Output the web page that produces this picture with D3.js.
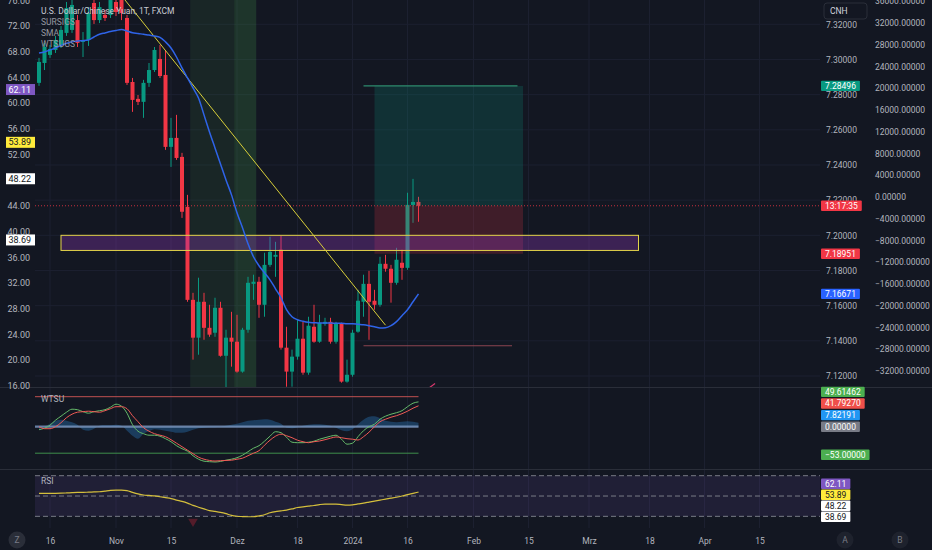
<!DOCTYPE html>
<html>
<head>
<meta charset="utf-8">
<script src="https://cdn.jsdelivr.net/npm/d3@7"></script>
<style>
  html, body { margin: 0; padding: 0; background: #131722; }
  svg { display: block; font-family: Roboto, "Noto Sans", sans-serif; }
</style>
</head>
<body>
<div id="chart"></div>
<script>
// USD/CNH daily (1T), FXCM, 12 Oct 2023 .. 18 Jan 2024
const opens = [
  7.2867, 7.2980, 7.3026, 7.3054, 7.3082, 7.3151, 7.3168, 7.3224, 7.3100, 7.3111,
  7.3321, 7.3224, 7.3253, 7.3253, 7.3327, 7.3338, 7.3236, 7.2872, 7.2776, 7.2759,
  7.2867, 7.2940, 7.3003, 7.2912, 7.2503, 7.2554, 7.2446, 7.2162, 7.1633, 7.1418,
  7.1622, 7.1474, 7.1446, 7.1588, 7.1315, 7.1418, 7.1395, 7.1225, 7.1463, 7.1724,
  7.1736, 7.1605, 7.1832, 7.1878, 7.1918, 7.1361, 7.1225, 7.1310, 7.1412, 7.1219,
  7.1480, 7.1395, 7.1497, 7.1508, 7.1395, 7.1497, 7.1168, 7.1207, 7.1452, 7.1622,
  7.1724, 7.1628, 7.1605, 7.1838, 7.1810, 7.1730, 7.1844, 7.1815, 7.2173, 7.2190
];
const highs = [
  7.3009, 7.3094, 7.3082, 7.3134, 7.3190, 7.3327, 7.3367, 7.3253, 7.3156, 7.3298,
  7.3372, 7.3327, 7.3281, 7.3372, 7.3361, 7.3367, 7.3253, 7.2895, 7.2798, 7.2884,
  7.2980, 7.3071, 7.3082, 7.3054, 7.2668, 7.2685, 7.2469, 7.2230, 7.1673, 7.1759,
  7.1673, 7.1605, 7.1645, 7.1622, 7.1463, 7.1565, 7.1548, 7.1474, 7.1764, 7.1776,
  7.1764, 7.1901, 7.1992, 7.1963, 7.1997, 7.1480, 7.1350, 7.1520, 7.1509, 7.1537,
  7.1605, 7.1548, 7.1531, 7.1531, 7.1508, 7.1503, 7.1293, 7.1463, 7.1690, 7.1776,
  7.1798, 7.1690, 7.1878, 7.1889, 7.1832, 7.1929, 7.1918, 7.2242, 7.2321, 7.2219
];
const lows = [
  7.2850, 7.2940, 7.3009, 7.3037, 7.3065, 7.3134, 7.3151, 7.3071, 7.3014, 7.3077,
  7.3202, 7.3207, 7.3219, 7.3236, 7.3247, 7.3224, 7.2855, 7.2702, 7.2741, 7.2668,
  7.2844, 7.2929, 7.2895, 7.2486, 7.2389, 7.2429, 7.2099, 7.1622, 7.1293, 7.1321,
  7.1406, 7.1423, 7.1423, 7.1310, 7.1134, 7.1253, 7.1219, 7.1219, 7.1446, 7.1633,
  7.1531, 7.1537, 7.1821, 7.1764, 7.1350, 7.1139, 7.1139, 7.1293, 7.1207, 7.1207,
  7.1389, 7.1389, 7.1486, 7.1384, 7.1384, 7.1162, 7.1162, 7.1196, 7.1446, 7.1537,
  7.1406, 7.1577, 7.1594, 7.1793, 7.1617, 7.1719, 7.1747, 7.1804, 7.2071, 7.2077
];
const closes = [
  7.2986, 7.3071, 7.3060, 7.3111, 7.3168, 7.3293, 7.3310, 7.3094, 7.3111, 7.3264,
  7.3224, 7.3298, 7.3236, 7.3338, 7.3270, 7.3264, 7.2867, 7.2770, 7.2759, 7.2867,
  7.2940, 7.3054, 7.2906, 7.2503, 7.2554, 7.2440, 7.2134, 7.1633, 7.1418, 7.1622,
  7.1474, 7.1435, 7.1588, 7.1315, 7.1418, 7.1395, 7.1225, 7.1463, 7.1730, 7.1736,
  7.1605, 7.1832, 7.1906, 7.1889, 7.1361, 7.1225, 7.1310, 7.1412, 7.1219, 7.1486,
  7.1395, 7.1503, 7.1508, 7.1395, 7.1497, 7.1168, 7.1207, 7.1446, 7.1628, 7.1724,
  7.1622, 7.1605, 7.1838, 7.1810, 7.1730, 7.1861, 7.1815, 7.2173, 7.2190, 7.2168
];
const sma = [
  7.3037, 7.3043, 7.3054, 7.3065, 7.3080, 7.3092, 7.3100, 7.3105, 7.3107, 7.3111,
  7.3128, 7.3143, 7.3151, 7.3159, 7.3165, 7.3170, 7.3162, 7.3152, 7.3148, 7.3143,
  7.3139, 7.3134, 7.3126, 7.3100, 7.3065, 7.3014, 7.2952, 7.2895, 7.2838, 7.2781,
  7.2685, 7.2588, 7.2497, 7.2406, 7.2315, 7.2230, 7.2128, 7.2043, 7.1952, 7.1878,
  7.1827, 7.1787, 7.1747, 7.1696, 7.1645, 7.1577, 7.1537, 7.1520, 7.1511, 7.1505,
  7.1503, 7.1501, 7.1501, 7.1501, 7.1500, 7.1500, 7.1497, 7.1497, 7.1494, 7.1491,
  7.1486, 7.1480, 7.1473, 7.1474, 7.1486, 7.1509, 7.1543, 7.1577, 7.1622, 7.16671
];

// WTSU oscillator
const wt1 = [
  -6, -3, 3, 13, 21, 29, 35, 34, 30, 27, 30, 32, 34, 39, 45, 41, 27, 4, -9, -14,
  -17, -17, -19, -24, -30, -38, -44, -49, -58, -65, -69, -70, -70.6, -69.5, -67, -65, -62, -57, -50, -43,
  -38, -29, -19, -10, -12, -21, -31, -32, -32, -31, -29, -25, -22, -19, -17, -25, -35, -33, -20, -8,
  0, 5, 15, 21, 25, 28, 32, 40, 47, 49.61462
];
const wt2 = [
  0, -4, -4, 0, 8, 18, 25, 29, 30, 31, 30, 29, 32, 36, 40, 40, 36, 22, 10, -2,
  -9, -14, -17, -20, -26, -33, -40, -47, -54, -61, -65, -67.5, -68.6, -68, -67.5, -67, -65, -63, -58, -53,
  -48, -37, -27, -19, -15, -18, -22, -27, -30, -32, -30, -28.6, -26, -23, -20.5, -22, -24, -25, -26.6, -20,
  -11, 0, 10, 15, 19, 22, 26, 31, 37, 41.7927
];
const wtFill = [
  -5, 0, 6, 12, 14, 12, 9, 4, -6, -8, -4, 2, 3, 3, 4, 2, -8, -18, -24, -14,
  -9, -5, -6, -8, -10, -12, -12, -10, -6, -3, -2, -1, -1, 0, 2, 4, 6, 9, 12, 13,
  14, 15, 14, 10, 6, -2, -3, -1, 2, 4, 5, 5, 4, 2, -2, -7, -9, -5, 5, 14,
  20, 21, 17, 12, 10, 9, 10, 11, 10, 7.82191
];
const wtLevels = { overbought: 60, zero: 0, oversold: -53 };

const rsi = [
  52.7, 52.7, 52.7, 52.7, 52.8, 53.0, 53.3, 53.5, 53.6, 53.8, 54.0, 54.2, 54.9, 55.6, 55.9, 55.9, 55.3, 53.6, 52.1, 51.0,
  50.6, 50.2, 49.3, 48.4, 47.5, 46.0, 44.7, 43.0, 40.8, 39.0, 37.3, 35.6, 34.8, 33.9, 32.6, 30.9, 30.1, 29.8, 29.6, 29.6,
  30.5, 31.6, 33.5, 34.7, 35.4, 36.2, 37.3, 38.7, 39.3, 40.0, 40.7, 41.6, 42.1, 42.1, 42.0, 41.5, 41.0, 41.3, 42.2, 43.0,
  44.0, 45.0, 46.0, 47.0, 47.9, 48.8, 50.0, 51.4, 52.6, 53.89
];
const rsiSignals = [{ day: '2023-11-21', value: 25 }];
const sursigs = [62.11, 53.89, 48.22, 38.69];

// chart drawings
const greenBands = [
  { from: '2023-11-21', to: '2023-12-01', alpha: 0.10 },
  { from: '2023-12-01', to: '2023-12-07', alpha: 0.20 },
];
const trendLine = { from: '2023-11-01', p1: 7.3402, to: '2024-01-10', p2: 7.1489 };
const zone = { from: '2023-10-18', to: '2024-03-14', top: 7.2000, bottom: 7.1914 };
const position = { from: '2024-01-08', to: '2024-02-14', entry: 7.2168, target: 7.28496, stop: 7.18951 };
const levels = [
  { from: '2024-01-04', to: '2024-02-13', price: 7.2850, color: '#2e8b6e' },
  { from: '2024-01-04', to: '2024-02-12', price: 7.1372, color: '#8c4450' },
];
const pinkSegment = { from: '2024-01-22', p1: 7.1134, to: '2024-01-23', p2: 7.1157 };

// axes
const priceTicks = [7.12, 7.14, 7.16, 7.18, 7.20, 7.22, 7.24, 7.26, 7.28, 7.30, 7.32];
const volTicks = [36000, 32000, 28000, 24000, 20000, 16000, 12000, 8000, 4000, 0,
  -4000, -8000, -12000, -16000, -20000, -24000, -28000, -32000];
const leftTicks = [16, 20, 24, 28, 32, 36, 40, 44, 48, 52, 56, 60, 64, 68, 72, 76];
const timeTicks = [
  ['2023-10-16', '16'], ['2023-11-01', 'Nov'], ['2023-11-15', '15'], ['2023-12-01', 'Dez'],
  ['2023-12-18', '18'], ['2024-01-02', '2024'], ['2024-01-16', '16'], ['2024-02-01', 'Feb'],
  ['2024-02-15', '15'], ['2024-03-01', 'Mrz'], ['2024-03-18', '18'], ['2024-04-01', 'Apr'],
  ['2024-04-15', '15'],
];

// trading calendar (weekdays, FXCM skipped New Year)
const firstDay = '2023-10-12', lastDay = '2024-04-30';
const holidays = ['2024-01-01'];
const days = [];
for (let t = Date.parse(firstDay); t <= Date.parse(lastDay); t += 864e5) {
  const d = new Date(t), wd = d.getUTCDay(), iso = d.toISOString().slice(0, 10);
  if (wd === 0 || wd === 6 || holidays.includes(iso)) continue;
  days.push(iso);
}
const dayIdx = iso => days.indexOf(iso);

// ---- layout ----
const W = 932, H = 550;
const paneL = 35, paneR = 820;
const mainTop = 0, mainBot = 387, wtTop = 388, wtBot = 469, rsiTop = 470, rsiBot = 528;
const fs = 8.5;
const up = '#089981', down = '#f23645';
const axisColor = '#b2b5be', gridColor = '#1c2030';

const x = d3.scaleLinear().domain([0, 1]).range([39, 44.5]);
const xd = iso => x(dayIdx(iso));
const yPrice = d3.scaleLinear().domain([7.12, 7.32]).range([376, 24.3]);
const yLeft = d3.scaleLinear().domain([16, 72]).range([385.7, 26]);
const yVol = d3.scaleLinear().domain([-32000, 36000]).range([371, 1]);
const yWt = d3.scaleLinear().domain([-80, 60]).range([466.7, 396.7]);
const yRsi = d3.scaleLinear().domain([20, 70]).range([526.5, 475.7]);

const svg = d3.select('#chart').append('svg').attr('width', W).attr('height', H);
svg.append('rect').attr('width', W).attr('height', H).attr('fill', '#131722');

const defs = svg.append('defs');
const clip = (id, y0, y1) => defs.append('clipPath').attr('id', id).append('rect')
  .attr('x', paneL).attr('y', y0).attr('width', paneR - paneL).attr('height', y1 - y0);
clip('clipMain', mainTop, mainBot);
clip('clipWt', wtTop, wtBot);
clip('clipRsi', rsiTop, rsiBot);
defs.append('clipPath').attr('id', 'clipWtAxis').append('rect')
  .attr('x', paneR).attr('y', wtTop).attr('width', W - paneR).attr('height', wtBot - wtTop);
defs.append('clipPath').attr('id', 'clipRsiAxis').append('rect')
  .attr('x', paneR).attr('y', rsiTop).attr('width', W - paneR).attr('height', rsiBot - rsiTop);

// grid
const grid = svg.append('g');
grid.selectAll('line.v').data(timeTicks).join('line')
  .attr('x1', d => xd(d[0])).attr('x2', d => xd(d[0]))
  .attr('y1', mainTop).attr('y2', rsiBot)
  .attr('stroke', gridColor);
grid.selectAll('line.h').data(priceTicks).join('line')
  .attr('x1', paneL).attr('x2', paneR)
  .attr('y1', d => yPrice(d)).attr('y2', d => yPrice(d))
  .attr('stroke', gridColor);

// ---- main pane ----
const main = svg.append('g').attr('clip-path', 'url(#clipMain)');

main.selectAll('rect.band').data(greenBands).join('rect')
  .attr('x', d => xd(d.from) - 2.75).attr('width', d => xd(d.to) - xd(d.from))
  .attr('y', mainTop).attr('height', mainBot - mainTop)
  .attr('fill', d => `rgba(76,175,80,${d.alpha})`);

const candles = opens.map((o, i) => ({ i, o, h: highs[i], l: lows[i], c: closes[i] }));
main.selectAll('line.wick').data(candles).join('line')
  .attr('x1', d => x(d.i)).attr('x2', d => x(d.i))
  .attr('y1', d => yPrice(d.h)).attr('y2', d => yPrice(d.l))
  .attr('stroke', d => d.c >= d.o ? up : down).attr('stroke-width', 1);
main.selectAll('rect.body').data(candles).join('rect')
  .attr('x', d => x(d.i) - 2).attr('width', 4)
  .attr('y', d => yPrice(Math.max(d.o, d.c)))
  .attr('height', d => Math.max(1, Math.abs(yPrice(d.o) - yPrice(d.c))))
  .attr('fill', d => d.c >= d.o ? up : down);

// long position
main.append('rect')
  .attr('x', xd(position.from)).attr('width', xd(position.to) - xd(position.from))
  .attr('y', yPrice(position.target)).attr('height', yPrice(position.entry) - yPrice(position.target))
  .attr('fill', 'rgba(8,153,129,0.2)');
main.append('rect')
  .attr('x', xd(position.from)).attr('width', xd(position.to) - xd(position.from))
  .attr('y', yPrice(position.entry)).attr('height', yPrice(position.stop) - yPrice(position.entry))
  .attr('fill', 'rgba(242,54,69,0.2)');

main.selectAll('line.level').data(levels).join('line')
  .attr('x1', d => xd(d.from)).attr('x2', d => xd(d.to))
  .attr('y1', d => yPrice(d.price)).attr('y2', d => yPrice(d.price))
  .attr('stroke', d => d.color).attr('stroke-width', 1.2);

// support zone
main.append('rect')
  .attr('x', xd(zone.from)).attr('width', xd(zone.to) - xd(zone.from))
  .attr('y', yPrice(zone.top)).attr('height', yPrice(zone.bottom) - yPrice(zone.top))
  .attr('fill', 'rgba(149,60,190,0.32)')
  .attr('stroke', '#e3d34a').attr('stroke-width', 1);

// current price line
const lastClose = closes[closes.length - 1];
main.append('line')
  .attr('x1', paneL).attr('x2', paneR)
  .attr('y1', yPrice(lastClose)).attr('y2', yPrice(lastClose))
  .attr('stroke', down).attr('stroke-width', 1).attr('stroke-dasharray', '1,2').attr('opacity', 0.8);

// trend line
main.append('line')
  .attr('x1', xd(trendLine.from)).attr('y1', yPrice(trendLine.p1))
  .attr('x2', xd(trendLine.to)).attr('y2', yPrice(trendLine.p2))
  .attr('stroke', '#d8cf3a').attr('stroke-width', 1);

main.append('line')
  .attr('x1', xd(pinkSegment.from)).attr('y1', yPrice(pinkSegment.p1))
  .attr('x2', xd(pinkSegment.to)).attr('y2', yPrice(pinkSegment.p2))
  .attr('stroke', '#d9386e').attr('stroke-width', 1.2);

// SMA
main.append('path')
  .datum(sma)
  .attr('d', d3.line().x((d, i) => x(i)).y(d => yPrice(d)).curve(d3.curveMonotoneX))
  .attr('fill', 'none').attr('stroke', '#2f64e8').attr('stroke-width', 1.5);

// legend
const legend = svg.append('g').attr('font-size', fs);
legend.append('text').attr('x', 41).attr('y', 14).attr('fill', '#c8cbd3')
  .text('U.S. Dollar/Chinese Yuan, 1T, FXCM');
['SURSIGS', 'SMA', 'WTSUGS'].forEach((name, n) => {
  legend.append('text').attr('x', 41).attr('y', 25 + 11 * n).attr('fill', '#a3a6af').attr('opacity', 0.9).text(name);
});

// ---- WTSU pane ----
const wt = svg.append('g').attr('clip-path', 'url(#clipWt)');
const lastX = x(wt1.length - 1);
wt.append('path')
  .datum(wtFill)
  .attr('d', d3.area().x((d, i) => x(i)).y0(yWt(0)).y1(d => yWt(d)).curve(d3.curveMonotoneX))
  .attr('fill', 'rgba(41,120,190,0.38)');
wt.append('line').attr('x1', paneL).attr('x2', lastX)
  .attr('y1', yWt(wtLevels.overbought)).attr('y2', yWt(wtLevels.overbought))
  .attr('stroke', '#c05050').attr('stroke-width', 1);
wt.append('line').attr('x1', paneL).attr('x2', lastX)
  .attr('y1', yWt(wtLevels.oversold)).attr('y2', yWt(wtLevels.oversold))
  .attr('stroke', '#3f8f4c').attr('stroke-width', 1);
wt.append('line').attr('x1', paneL).attr('x2', lastX)
  .attr('y1', yWt(wtLevels.zero)).attr('y2', yWt(wtLevels.zero))
  .attr('stroke', '#7f9cc6').attr('stroke-width', 2.2).attr('opacity', 0.8);
const wtLine = d3.line().x((d, i) => x(i)).y(d => yWt(d)).curve(d3.curveMonotoneX);
wt.append('path').datum(wt1).attr('d', wtLine)
  .attr('fill', 'none').attr('stroke', '#66bb6a').attr('stroke-width', 1);
wt.append('path').datum(wt2).attr('d', wtLine)
  .attr('fill', 'none').attr('stroke', '#ef5a55').attr('stroke-width', 1);
svg.append('text').attr('x', 41).attr('y', 402).attr('font-size', fs).attr('fill', axisColor).text('WTSU');

// ---- RSI pane ----
const rp = svg.append('g').attr('clip-path', 'url(#clipRsi)');
rp.append('rect').attr('x', paneL).attr('width', paneR - paneL)
  .attr('y', yRsi(70)).attr('height', yRsi(30) - yRsi(70))
  .attr('fill', 'rgba(126,87,194,0.13)');
rp.selectAll('line.rsilvl').data([70, 50, 30]).join('line')
  .attr('x1', paneL).attr('x2', paneR)
  .attr('y1', d => yRsi(d)).attr('y2', d => yRsi(d))
  .attr('stroke', '#787b86').attr('stroke-dasharray', '5,3').attr('stroke-width', 1);
rp.selectAll('path.sig').data(rsiSignals).join('path')
  .attr('d', d3.symbol(d3.symbolTriangle, 40))
  .attr('transform', d => `translate(${xd(d.day)},${yRsi(d.value)}) rotate(180)`)
  .attr('fill', 'rgba(120,30,48,0.65)');
rp.append('path').datum(rsi)
  .attr('d', d3.line().x((d, i) => x(i)).y(d => yRsi(d)).curve(d3.curveMonotoneX))
  .attr('fill', 'none').attr('stroke', '#d4bf3c').attr('stroke-width', 1.2);
svg.append('text').attr('x', 41).attr('y', 484).attr('font-size', fs).attr('fill', axisColor).text('RSI');

// pane separators
svg.selectAll('line.sep').data([mainBot + 0.5, wtBot + 0.5]).join('line')
  .attr('x1', 0).attr('x2', W).attr('y1', d => d).attr('y2', d => d)
  .attr('stroke', '#2a2e39').attr('stroke-width', 1);

// ---- axes ----
const styleAxis = g => {
  g.select('.domain').remove();
  g.attr('font-family', null).attr('font-size', fs);
  g.selectAll('text').attr('fill', axisColor);
};
svg.append('g').attr('transform', 'translate(823,0)')
  .call(d3.axisRight(yPrice).tickValues(priceTicks).tickFormat(d3.format('.5f')).tickSize(0).tickPadding(3))
  .call(styleAxis);
svg.append('g').attr('transform', 'translate(872,0)')
  .call(d3.axisRight(yVol).tickValues(volTicks).tickFormat(d3.format('.5f')).tickSize(0).tickPadding(3))
  .call(styleAxis);
svg.append('g').attr('transform', 'translate(30,0)')
  .call(d3.axisLeft(yLeft).tickValues(leftTicks).tickFormat(d3.format('.2f')).tickSize(0).tickPadding(0))
  .call(styleAxis).attr('font-size', 9);
svg.append('g').attr('transform', 'translate(823,0)').attr('clip-path', 'url(#clipWtAxis)')
  .call(d3.axisRight(yWt).tickValues([-80, -40]).tickFormat(d3.format('.5f')).tickSize(0).tickPadding(3))
  .call(styleAxis);
svg.append('g').attr('transform', 'translate(823,0)').attr('clip-path', 'url(#clipRsiAxis)')
  .call(d3.axisRight(yRsi).tickValues([20]).tickFormat(d3.format('.2f')).tickSize(0).tickPadding(3))
  .call(styleAxis);
svg.append('g').attr('transform', `translate(0,${rsiBot})`)
  .call(d3.axisBottom(x).tickValues(timeTicks.map(d => dayIdx(d[0])))
    .tickFormat((d, n) => timeTicks[n][1]).tickSize(0).tickPadding(10))
  .call(styleAxis);

// ---- price tags ----
const tagLayer = svg.append('g').attr('font-size', fs);
const tag = (x0, yc, text, bg, fg) => {
  const g = tagLayer.append('g');
  const r = g.append('rect').attr('x', x0).attr('y', yc - 5.2).attr('height', 10.4).attr('rx', 1).attr('fill', bg);
  const t = g.append('text').attr('x', x0 + 4).attr('y', yc).attr('dy', '0.35em').attr('fill', fg).text(text);
  r.attr('width', t.node().getComputedTextLength() + 8);
};
// stack tags so they do not overlap: 'down' keeps the top one in place, 'up' keeps the bottom one
const stack = (items, h, dir) => {
  items.sort((a, b) => a.y - b.y);
  if (dir === 'down') {
    for (let i = 1; i < items.length; i++) items[i].y = Math.max(items[i].y, items[i - 1].y + h);
  } else {
    for (let i = items.length - 2; i >= 0; i--) items[i].y = Math.min(items[i].y, items[i + 1].y - h);
  }
  return items;
};

const f5 = d3.format('.5f');
tag(821, yPrice(position.target), f5(position.target), up, '#fff');
tag(821, yPrice(lastClose), '13:17:35', down, '#fff');
tag(821, yPrice(position.stop), f5(position.stop), down, '#fff');
tag(821, yPrice(sma[sma.length - 1]), f5(sma[sma.length - 1]), '#2962ff', '#fff');

stack([
  { v: wt1[wt1.length - 1], bg: '#4caf50' },
  { v: wt2[wt2.length - 1], bg: '#ef4f4a' },
  { v: wtFill[wtFill.length - 1], bg: '#2196f3' },
  { v: wtLevels.zero, bg: '#787b86' },
].map(d => ({ ...d, y: yWt(d.v) })), 11.6, 'up').forEach(d => tag(821, d.y, f5(d.v), d.bg, '#fff'));
tag(821, yWt(wtLevels.oversold) + 1.5, f5(wtLevels.oversold), '#4caf50', '#fff');

const sigColors = [['#7e57c2', '#fff'], ['#ffeb3b', '#131722'], ['#ffffff', '#131722'], ['#ffffff', '#131722']];
stack(sursigs.map((v, n) => ({ v, n, y: yRsi(v) })), 11, 'down')
  .forEach(d => tag(821, d.y, d3.format('.2f')(d.v), sigColors[d.n][0], sigColors[d.n][1]));

// left SURSIGS tags
sursigs.forEach((v, n) => {
  const yc = yLeft(v);
  tagLayer.append('rect').attr('x', 6).attr('y', yc - 5.5).attr('width', 29).attr('height', 11)
    .attr('fill', sigColors[n][0]);
  tagLayer.append('text').attr('x', 31).attr('y', yc).attr('dy', '0.35em').attr('text-anchor', 'end')
    .attr('font-size', 9).attr('fill', sigColors[n][1]).text(d3.format('.2f')(v));
});

// currency button
svg.append('rect').attr('x', 824).attr('y', 3).attr('width', 43).attr('height', 16).attr('rx', 3)
  .attr('fill', '#131722').attr('stroke', '#2a2e39');
svg.append('text').attr('x', 830).attr('y', 11).attr('dy', '0.35em').attr('font-size', fs)
  .attr('fill', '#d1d4dc').text('CNH');

// bottom round buttons
[['Z', 17, '#2a2e39'], ['A', 845, '#1e222d'], ['B', 900, '#1e222d']].forEach(([txt, cx, fill]) => {
  svg.append('circle').attr('cx', cx).attr('cy', 540).attr('r', 8.5).attr('fill', fill);
  svg.append('text').attr('x', cx).attr('y', 540).attr('dy', '0.35em').attr('text-anchor', 'middle')
    .attr('font-size', fs).attr('fill', '#787b86').text(txt);
});
</script>
</body>
</html>
